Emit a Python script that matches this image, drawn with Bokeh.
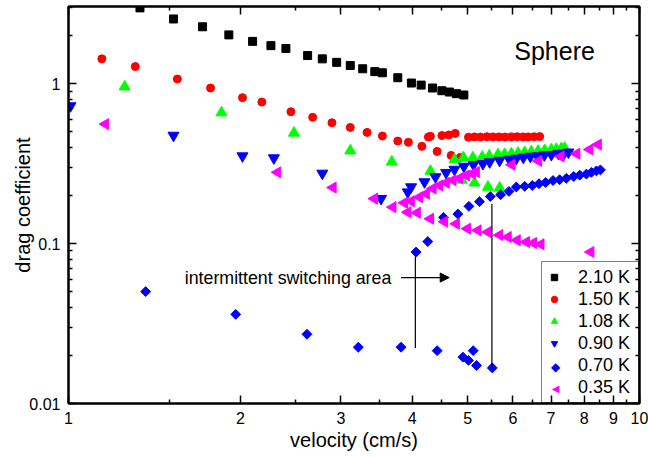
import numpy as np
from bokeh.plotting import figure
from bokeh.models import (Range1d, FixedTicker, LogAxis, Legend, LegendItem, Arrow,
                          NormalHead, Label, CustomJSTickFormatter)
from bokeh.embed import file_html
from bokeh.resources import INLINE

# ---------------- data (velocity cm/s, drag coefficient) ----------------
T210_x = [1.334, 1.527, 1.717, 1.909, 2.101, 2.262, 2.403, 2.623, 2.783, 2.949, 3.115,
          3.275, 3.439, 3.546, 3.773, 3.986, 4.146, 4.339, 4.507, 4.647, 4.780, 4.925]
T210_y = [2.98, 2.54, 2.27, 2.02, 1.84, 1.73, 1.66, 1.50, 1.43, 1.36, 1.30,
          1.24, 1.19, 1.17, 1.09, 1.01, 0.98, 0.94, 0.904, 0.887, 0.866, 0.85]

T150_x = [1.144, 1.309, 1.551, 1.773, 2.017, 2.181, 2.452, 2.677, 2.893, 3.115, 3.333,
          3.546, 3.773, 3.938, 4.158, 4.422, 4.679, 4.853, 4.269, 4.303, 4.507, 4.636,
          4.756, 5.018, 5.141, 5.267, 5.406, 5.538, 5.675, 5.814, 5.964, 6.103, 6.252,
          6.380, 6.537, 6.687]
T150_y = [1.43, 1.28, 1.07, 0.94, 0.818, 0.768, 0.668, 0.616, 0.570, 0.533, 0.496,
          0.471, 0.438, 0.430, 0.406, 0.377, 0.356, 0.346, 0.464, 0.469, 0.474, 0.478,
          0.489, 0.463, 0.465, 0.464, 0.466, 0.465, 0.465, 0.464, 0.465, 0.466, 0.465,
          0.465, 0.466, 0.467]

T108_x = [1.254, 1.853, 2.482, 3.115, 3.683, 4.303, 4.886, 5.141, 5.427, 5.688, 4.742,
          4.917, 5.107, 5.303, 5.455, 5.651, 5.804, 5.964, 6.128, 6.294, 6.465, 6.642,
          6.822, 7.008, 7.151, 7.297, 7.394]
T108_y = [0.957, 0.659, 0.492, 0.381, 0.325, 0.284, 0.250, 0.240, 0.226, 0.223, 0.335,
          0.345, 0.345, 0.348, 0.354, 0.360, 0.362, 0.365, 0.368, 0.372, 0.376, 0.379,
          0.383, 0.387, 0.390, 0.394, 0.396]

T090_x = [1.008, 1.527, 2.017, 2.289, 2.783, 3.527, 3.928, 3.981, 4.202, 4.392, 4.585,
          4.742, 4.925, 5.120, 5.317, 5.465, 5.688, 5.916, 6.085, 6.259, 6.439, 6.623,
          6.813, 7.008, 7.208, 7.385, 7.506]
T090_y = [0.726, 0.475, 0.353, 0.343, 0.275, 0.191, 0.210, 0.226, 0.243, 0.261, 0.278,
          0.291, 0.304, 0.312, 0.316, 0.324, 0.331, 0.336, 0.341, 0.346, 0.351, 0.353,
          0.358, 0.360, 0.366, 0.368, 0.373]

T070_x = [1.365, 1.963, 2.616, 3.218, 3.823, 4.422, 4.906, 5.018, 5.114, 5.183, 5.523,
          4.062, 4.258, 4.536, 4.807, 5.026, 5.246, 5.479, 5.711, 5.907, 6.085, 6.294,
          6.491, 6.668, 6.849, 7.056, 7.246, 7.445, 7.669, 7.859, 8.072, 8.238, 8.406,
          8.543]
T070_y = [0.0501, 0.0361, 0.0271, 0.0225, 0.0225, 0.0214, 0.0195, 0.0186, 0.0214, 0.0173,
          0.0167, 0.0886, 0.103, 0.146, 0.153, 0.171, 0.183, 0.197, 0.202, 0.212, 0.226,
          0.228, 0.231, 0.237, 0.241, 0.248, 0.251, 0.256, 0.263, 0.268, 0.272, 0.279,
          0.285, 0.289]

T035_x = [1.161, 2.323, 2.905, 3.432, 3.698, 3.928, 4.079, 4.303, 4.554, 4.775, 4.997,
          5.212, 5.427, 5.688, 5.884, 6.103, 6.336, 6.517, 6.717, 8.214, 3.874, 3.981,
          4.117, 4.231, 4.347, 4.464, 4.585, 4.711, 4.838, 4.971, 5.093, 5.176, 5.975,
          6.655, 7.283, 7.762, 8.181, 8.464]
T035_y = [0.559, 0.279, 0.224, 0.191, 0.169, 0.157, 0.156, 0.143, 0.137, 0.133, 0.124,
          0.121, 0.118, 0.113, 0.110, 0.105, 0.1023, 0.1009, 0.099, 0.0886, 0.180, 0.184,
          0.195, 0.205, 0.221, 0.231, 0.240, 0.249, 0.256, 0.267, 0.274, 0.280, 0.311,
          0.329, 0.351, 0.365, 0.388, 0.416]

series_labels = ["2.10 K", "1.50 K", "1.08 K", "0.90 K", "0.70 K", "0.35 K"]

x_major = [1, 2, 3, 4, 5, 6, 7, 8, 9, 10]
x_minor = [1.5, 2.5, 3.5, 4.5, 5.5, 6.5, 7.5, 8.5, 9.5]
y_major = [0.01, 0.1, 1]
y_minor = [0.02, 0.03, 0.04, 0.05, 0.06, 0.07, 0.08, 0.09,
           0.2, 0.3, 0.4, 0.5, 0.6, 0.7, 0.8, 0.9, 2, 3]

# annotations (data coordinates)
arrow_x = [3.823, 4.642]
arrow_y = 0.0613
note_x, note_y = 1.598, 0.0613
vline1_x, vline1_y = 4.05, [0.083, 0.0222]
vline2_x, vline2_y = 5.515, [0.177, 0.0169]
title_x, title_y = 6.035, 1.61

FONT = "Liberation Sans"

p = figure(width=648, height=457, x_axis_type="log", y_axis_type="log",
           x_range=Range1d(1, 10), y_range=Range1d(0.01, 3.04),
           output_backend="svg", toolbar_location=None,
           min_border_left=68, min_border_right=9, min_border_top=6, min_border_bottom=54)
p.xgrid.visible = False
p.ygrid.visible = False
p.outline_line_color = "black"
p.outline_line_width = 2
p.background_fill_color = "white"
p.border_fill_color = "white"


def style_axis(ax, major, minor, labels=True):
    ax.ticker = FixedTicker(ticks=major, minor_ticks=minor)
    ax.axis_line_color = "black"
    ax.axis_line_width = 2
    ax.major_tick_in = 8
    ax.major_tick_out = 0
    ax.minor_tick_in = 4
    ax.minor_tick_out = 0
    ax.major_tick_line_color = "black"
    ax.minor_tick_line_color = "black"
    ax.major_tick_line_width = 1.5
    ax.minor_tick_line_width = 1.5
    if labels:
        ax.formatter = CustomJSTickFormatter(code="return String(tick);")
        ax.major_label_text_font = FONT
        ax.major_label_text_font_size = "16px"
        ax.major_label_text_color = "black"
        ax.axis_label_text_font = FONT
        ax.axis_label_text_font_size = "20px"
        ax.axis_label_text_font_style = "normal"
        ax.axis_label_text_color = "black"
    else:
        ax.formatter = CustomJSTickFormatter(code="return '';")
        ax.major_label_text_font_size = "0px"
        ax.major_label_standoff = 0


style_axis(p.xaxis[0], x_major, x_minor)
style_axis(p.yaxis[0], y_major, y_minor)
p.xaxis[0].axis_label = "velocity (cm/s)"
p.yaxis[0].axis_label = "drag coefficient"
p.xaxis[0].major_label_standoff = 8
p.xaxis[0].axis_label_standoff = 2
p.yaxis[0].major_label_standoff = 8
p.yaxis[0].axis_label_standoff = -8

top_ax = LogAxis()
style_axis(top_ax, x_major, x_minor, labels=False)
p.add_layout(top_ax, "above")
right_ax = LogAxis()
style_axis(right_ax, y_major, y_minor, labels=False)
p.add_layout(right_ax, "right")

r1 = p.scatter(T210_x, T210_y, marker="square", size=8, color="black")
r2 = p.scatter(T150_x, T150_y, marker="circle", size=8, color="#ff0000")
r3 = p.scatter(T108_x, T108_y, marker="triangle", size=11, color="#00ff00")
r4 = p.scatter(T090_x, T090_y, marker="inverted_triangle", size=11, color="#0000ff")
r5 = p.scatter(T070_x, T070_y, marker="square", angle=np.pi / 4, size=7, color="#0000ff")
r6 = p.scatter(T035_x, T035_y, marker="triangle", angle=np.pi / 2, size=11, color="#ff00ff")

# legend stand-ins (rotated markers are not rotated inside Bokeh legends)
r5_leg = p.scatter([], [], marker="square", size=1, fill_alpha=0, line_alpha=0)
r6_leg = p.scatter([], [], marker="square", size=1, fill_alpha=0, line_alpha=0)

# annotation lines
p.segment(x0=[vline1_x, vline2_x], y0=[vline1_y[0], vline2_y[0]],
          x1=[vline1_x, vline2_x], y1=[vline1_y[1], vline2_y[1]],
          line_color="black", line_width=1.2)
p.add_layout(Arrow(end=NormalHead(size=9, fill_color="black", line_color="black"),
                   x_start=arrow_x[0], y_start=arrow_y, x_end=arrow_x[1], y_end=arrow_y,
                   line_color="black", line_width=1.2))
p.add_layout(Label(x=note_x, y=note_y, text="intermittent switching area",
                   text_font=FONT, text_font_size="17.8px", text_baseline="middle",
                   text_align="left", text_color="black"))
p.add_layout(Label(x=title_x, y=title_y, text="Sphere",
                   text_font=FONT, text_font_size="25px", text_baseline="middle",
                   text_align="left", text_color="black"))

# legend symbols for the rotated markers (screen units, frame-relative)
p.add_layout(Label(x=487, y=37, x_units="screen", y_units="screen", text="\u25c6",
                   text_font="DejaVu Sans", text_font_size="12px", text_color="#0000ff",
                   text_align="center", text_baseline="middle"))
p.add_layout(Label(x=487, y=15, x_units="screen", y_units="screen", text="\u25c0",
                   text_font="DejaVu Sans", text_font_size="10px", text_color="#ff00ff",
                   text_align="center", text_baseline="middle"))

legend = Legend(items=[LegendItem(label=l, renderers=[r]) for l, r in
                       zip(series_labels, [r1, r2, r3, r4, r5_leg, r6_leg])],
                location="bottom_right", margin=0, padding=4, spacing=0,
                label_height=22, glyph_height=22, glyph_width=16, label_standoff=16,
                label_width=56, label_text_font=FONT, label_text_font_size="18px",
                label_text_color="black",
                border_line_color="black", border_line_width=1.5,
                background_fill_alpha=0)
p.add_layout(legend)

open("out.html", "w").write(file_html(p, INLINE))
